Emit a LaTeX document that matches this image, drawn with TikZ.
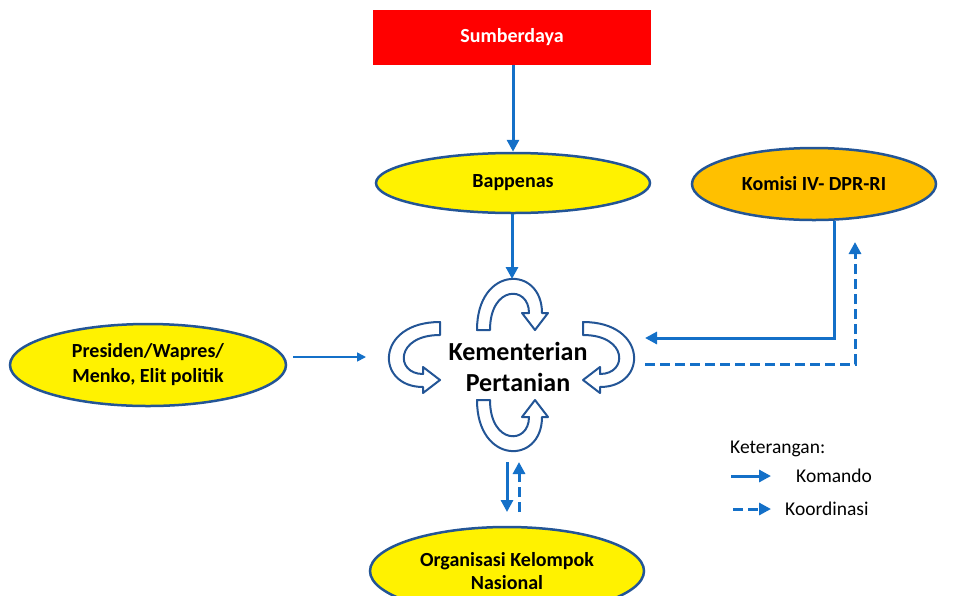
\documentclass[tikz,border=0pt]{standalone}
\usepackage{fontspec}
\setmainfont{Carlito}
\usetikzlibrary{shapes.geometric,arrows.meta}
\definecolor{abl}{RGB}{20,112,200}
\definecolor{edgeblue}{RGB}{35,85,150}
\definecolor{orng}{RGB}{255,192,0}
\tikzset{
  ell/.style={ellipse, draw=edgeblue, line width=2.5pt, fill=yellow, inner sep=0pt, align=center, font=\fontsize{20}{25}\selectfont\bfseries},
  cmd/.style={draw=abl, line width=3pt, -{Triangle[length=12pt,width=12pt]}},
  crd/.style={cmd, dash pattern=on 10pt off 5pt},
  thinarr/.style={draw=abl, line width=1.6pt, -{Triangle[length=9pt,width=9pt]}},
  turn/.style={draw=edgeblue, line width=2pt, fill=white, line join=round},
  legtxt/.style={anchor=west, inner sep=0pt, font=\fontsize{19.5}{23}\selectfont},
  uturn/.pic={\path[turn] (-35,0) .. controls (-35,65) and (30,65) .. (30,17) -- (36,17) -- (23,0) -- (10,17) -- (17,17) .. controls (17,45) and (-22,45) .. (-22,0) -- cycle;}
}
\begin{document}
\begin{tikzpicture}[x=1pt,y=-1pt]
\useasboundingbox (0,0) rectangle (960,595);

% nodes
\node[fill=red, minimum width=278pt, minimum height=55pt, inner sep=0pt, text=white, font=\fontsize{20}{25}\selectfont\bfseries] (sd) at (512,37.5) {Sumberdaya};
\node[ell, minimum width=274pt, minimum height=60pt] (bap) at (513,183) {Bappenas};
\node[ell, fill=orng, minimum width=244pt, minimum height=72pt] (kom) at (814,184) {Komisi IV- DPR-RI};
\node[ell, minimum width=276pt, minimum height=82pt] (pres) at (148,365) {Presiden/Wapres/\\Menko, Elit politik};
\node[ell, minimum width=274pt, minimum height=88pt] (ok) at (507,571) {Organisasi Kelompok\\[-2pt]Nasional};

% circular arrows
\begin{scope}[shift={(512,330)}, x={(1pt,0pt)}, y={(0pt,1pt)}]
  \pic {uturn};
\end{scope}
\begin{scope}[shift={(512,400)}, x={(1pt,0pt)}, y={(0pt,-1pt)}]
  \pic {uturn};
\end{scope}
\begin{scope}[shift={(440,357)}, x={(0pt,-1pt)}, y={(-1pt,0pt)}]
  \pic {uturn};
\end{scope}
\begin{scope}[shift={(583,357)}, x={(0pt,-1pt)}, y={(1pt,0pt)}]
  \pic {uturn};
\end{scope}

\node[align=center, inner sep=0pt, font=\fontsize{26}{31}\selectfont\bfseries] (km) at (518,367) {Kementerian\\Pertanian};

% coordinates
\coordinate (ktop) at (512,279);
\coordinate (pa) at (293,357);
\coordinate (pb) at (366,357);
\coordinate (k1) at (834,338);
\coordinate (kin) at (645,338);
\coordinate (kout) at (645,364);
\coordinate (k2) at (855,364);
\coordinate (k3) at (855,242);
\coordinate (b1) at (507,462);
\coordinate (b2) at (507,512);
\coordinate (b3) at (519,512);
\coordinate (b4) at (519,462);

% connectors
\draw[cmd] (sd.south -| bap.north) -- (bap.north);
\draw[cmd] (bap.south -| ktop) -- (ktop);
\draw[thinarr] (pa) -- (pb);
\draw[cmd] (kom.south -| k1) -- (k1) -- (kin);
\draw[crd] (kout) -- (k2) -- (k3);
\draw[cmd] (b1) -- (b2);
\draw[crd] (b3) -- (b4);

% legend
\node[legtxt] (ket) at (730,449) {Keterangan:};
\coordinate (l1a) at (731,476);
\coordinate (l1b) at (771,476);
\coordinate (l2a) at (733,509);
\coordinate (l2b) at (771,509);
\draw[cmd] (l1a) -- (l1b);
\draw[crd] (l2a) -- (l2b);
\node[legtxt] (kmd) at (796,476) {Komando};
\node[legtxt] (krd) at (785,509) {Koordinasi};
\end{tikzpicture}
\end{document}
